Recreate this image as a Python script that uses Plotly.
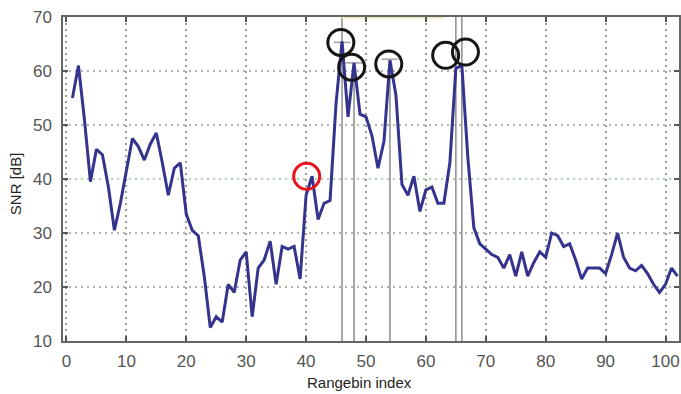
import plotly.graph_objects as go

# SNR per range bin
rangebin = list(range(1, 103))
snr_db = [
    55, 61, 51, 39.5, 45.5, 44.5, 38.5, 30.5, 35.5, 41.5,      # 1-10
    47.5, 46, 43.5, 46.5, 48.5, 43, 37, 42, 43, 33.5,          # 11-20
    30.5, 29.5, 22, 12.5, 14.5, 13.5, 20.5, 19, 25, 26.5,      # 21-30
    14.5, 23.5, 25, 28.5, 20.5, 27.5, 27, 27.5, 21.5, 37,      # 31-40
    40.5, 32.5, 35.5, 36, 54, 65.5, 51.5, 61.5, 52, 51.5,      # 41-50
    48, 42, 47, 62, 55.5, 39, 37, 40.5, 34, 38,                # 51-60
    38.5, 35.5, 35.5, 43, 60.5, 61, 44, 31, 28, 27,            # 61-70
    26, 25.5, 23.5, 26, 22, 26.5, 22, 24.5, 26.5, 25.5,        # 71-80
    30, 29.5, 27.5, 28, 25, 21.5, 23.5, 23.5, 23.5, 22.5,      # 81-90
    26, 30, 25.5, 23.5, 23, 24, 22.5, 20.5, 19, 20.5,          # 91-100
    23.5, 22,                                                  # 101-102
]

# detected target bins (vertical markers)
full_lines = [46, 65, 66]
peak_lines = [48, 54]
peak_line_tops = [61.5, 62]
cap_bins = [46, 48, 54]
cap_levels = [65.3, 61.5, 62.2]

# highlighted peaks
black_x = [45.8, 47.6, 53.8, 63.3, 66.6]
black_y = [65.3, 60.7, 61.3, 62.9, 63.5]
red_x = [40.1]
red_y = [40.5]

threshold_db = 40
y_grid = [20, 30, 50, 60]
x_ticks = list(range(0, 101, 10))
y_ticks = list(range(10, 71, 10))

X_RANGE = [-0.58, 102.25]
Y_RANGE = [10, 70]

fig = go.Figure()

shapes = []
for v in y_grid:
    shapes.append(dict(type="line", xref="x", yref="y", x0=X_RANGE[0], x1=X_RANGE[1],
                       y0=v, y1=v, layer="below",
                       line=dict(color="#9a9a9a", width=1.5, dash="2px,4px")))
shapes.append(dict(type="line", xref="x", yref="y", x0=X_RANGE[0], x1=X_RANGE[1],
                   y0=threshold_db, y1=threshold_db, layer="below",
                   line=dict(color="#8cc48c", width=1.5, dash="2px,4px")))
for b in full_lines:
    shapes.append(dict(type="line", xref="x", yref="y", x0=b, x1=b, y0=Y_RANGE[0], y1=Y_RANGE[1],
                       layer="below", line=dict(color="#8c8c8c", width=1.5)))
for b, top in zip(peak_lines, peak_line_tops):
    shapes.append(dict(type="line", xref="x", yref="y", x0=b, x1=b, y0=Y_RANGE[0], y1=top,
                       layer="below", line=dict(color="#8c8c8c", width=1.5)))
# pale marker strip along the top edge
shapes.append(dict(type="line", xref="x", yref="y", x0=46, x1=63, y0=69.85, y1=69.85,
                   layer="below", line=dict(color="#f0eac0", width=2)))

fig.add_trace(go.Scatter(
    x=cap_bins, y=cap_levels, mode="markers",
    marker=dict(symbol="line-ew-open", size=12, color="#a0a0a0", line=dict(color="#a0a0a0", width=1.5)),
    showlegend=False, hoverinfo="skip",
))

fig.add_trace(go.Scatter(
    x=rangebin, y=snr_db, mode="lines",
    line=dict(color="#34348e", width=3),
    showlegend=False,
))

fig.add_trace(go.Scatter(
    x=black_x, y=black_y, mode="markers",
    marker=dict(symbol="circle-open", size=26, color="#151515", line=dict(color="#151515", width=3)),
    showlegend=False, hoverinfo="skip",
))
fig.add_trace(go.Scatter(
    x=red_x, y=red_y, mode="markers",
    marker=dict(symbol="circle-open", size=26, color="#e8141c", line=dict(color="#e8141c", width=3)),
    showlegend=False, hoverinfo="skip",
))

axis_font = dict(family="Liberation Sans, Arial, sans-serif", size=17, color="#555555")

fig.update_layout(
    width=681, height=394,
    margin=dict(l=63, r=0, t=17, b=53),
    paper_bgcolor="white", plot_bgcolor="white",
    shapes=shapes,
    xaxis=dict(
        range=X_RANGE, tickvals=x_ticks, ticks="inside", ticklen=5, tickcolor="#555555",
        tickwidth=1.5, showline=True, linecolor="#666666", linewidth=1.5, mirror="ticks",
        showgrid=True, gridcolor="#9a9a9a", gridwidth=1.5, griddash="2px,4px",
        zeroline=False, tickfont=axis_font, ticklabelstandoff=4,
    ),
    yaxis=dict(
        range=Y_RANGE, tickvals=y_ticks, ticks="inside", ticklen=5, tickcolor="#555555",
        tickwidth=1.5, showline=True, linecolor="#666666", linewidth=1.5, mirror="ticks",
        showgrid=False, zeroline=False, tickfont=axis_font, ticklabelstandoff=6,
    ),
    annotations=[
        dict(text="Rangebin index", xref="paper", yref="paper", x=(360 - 63) / 618,
             y=-(383 - 341) / 324, xanchor="center", yanchor="middle", showarrow=False,
             borderpad=0,
             font=dict(family="Liberation Sans, Arial, sans-serif", size=15, color="#222222")),
        dict(text="SNR [dB]", xref="paper", yref="paper", x=-(63 - 15) / 618, y=1 - (184 - 17) / 324,
             xanchor="center", yanchor="middle", textangle=-90, showarrow=False,
             borderpad=0,
             font=dict(family="Liberation Sans, Arial, sans-serif", size=15, color="#222222")),
    ],
)

fig.write_html("out.html")
